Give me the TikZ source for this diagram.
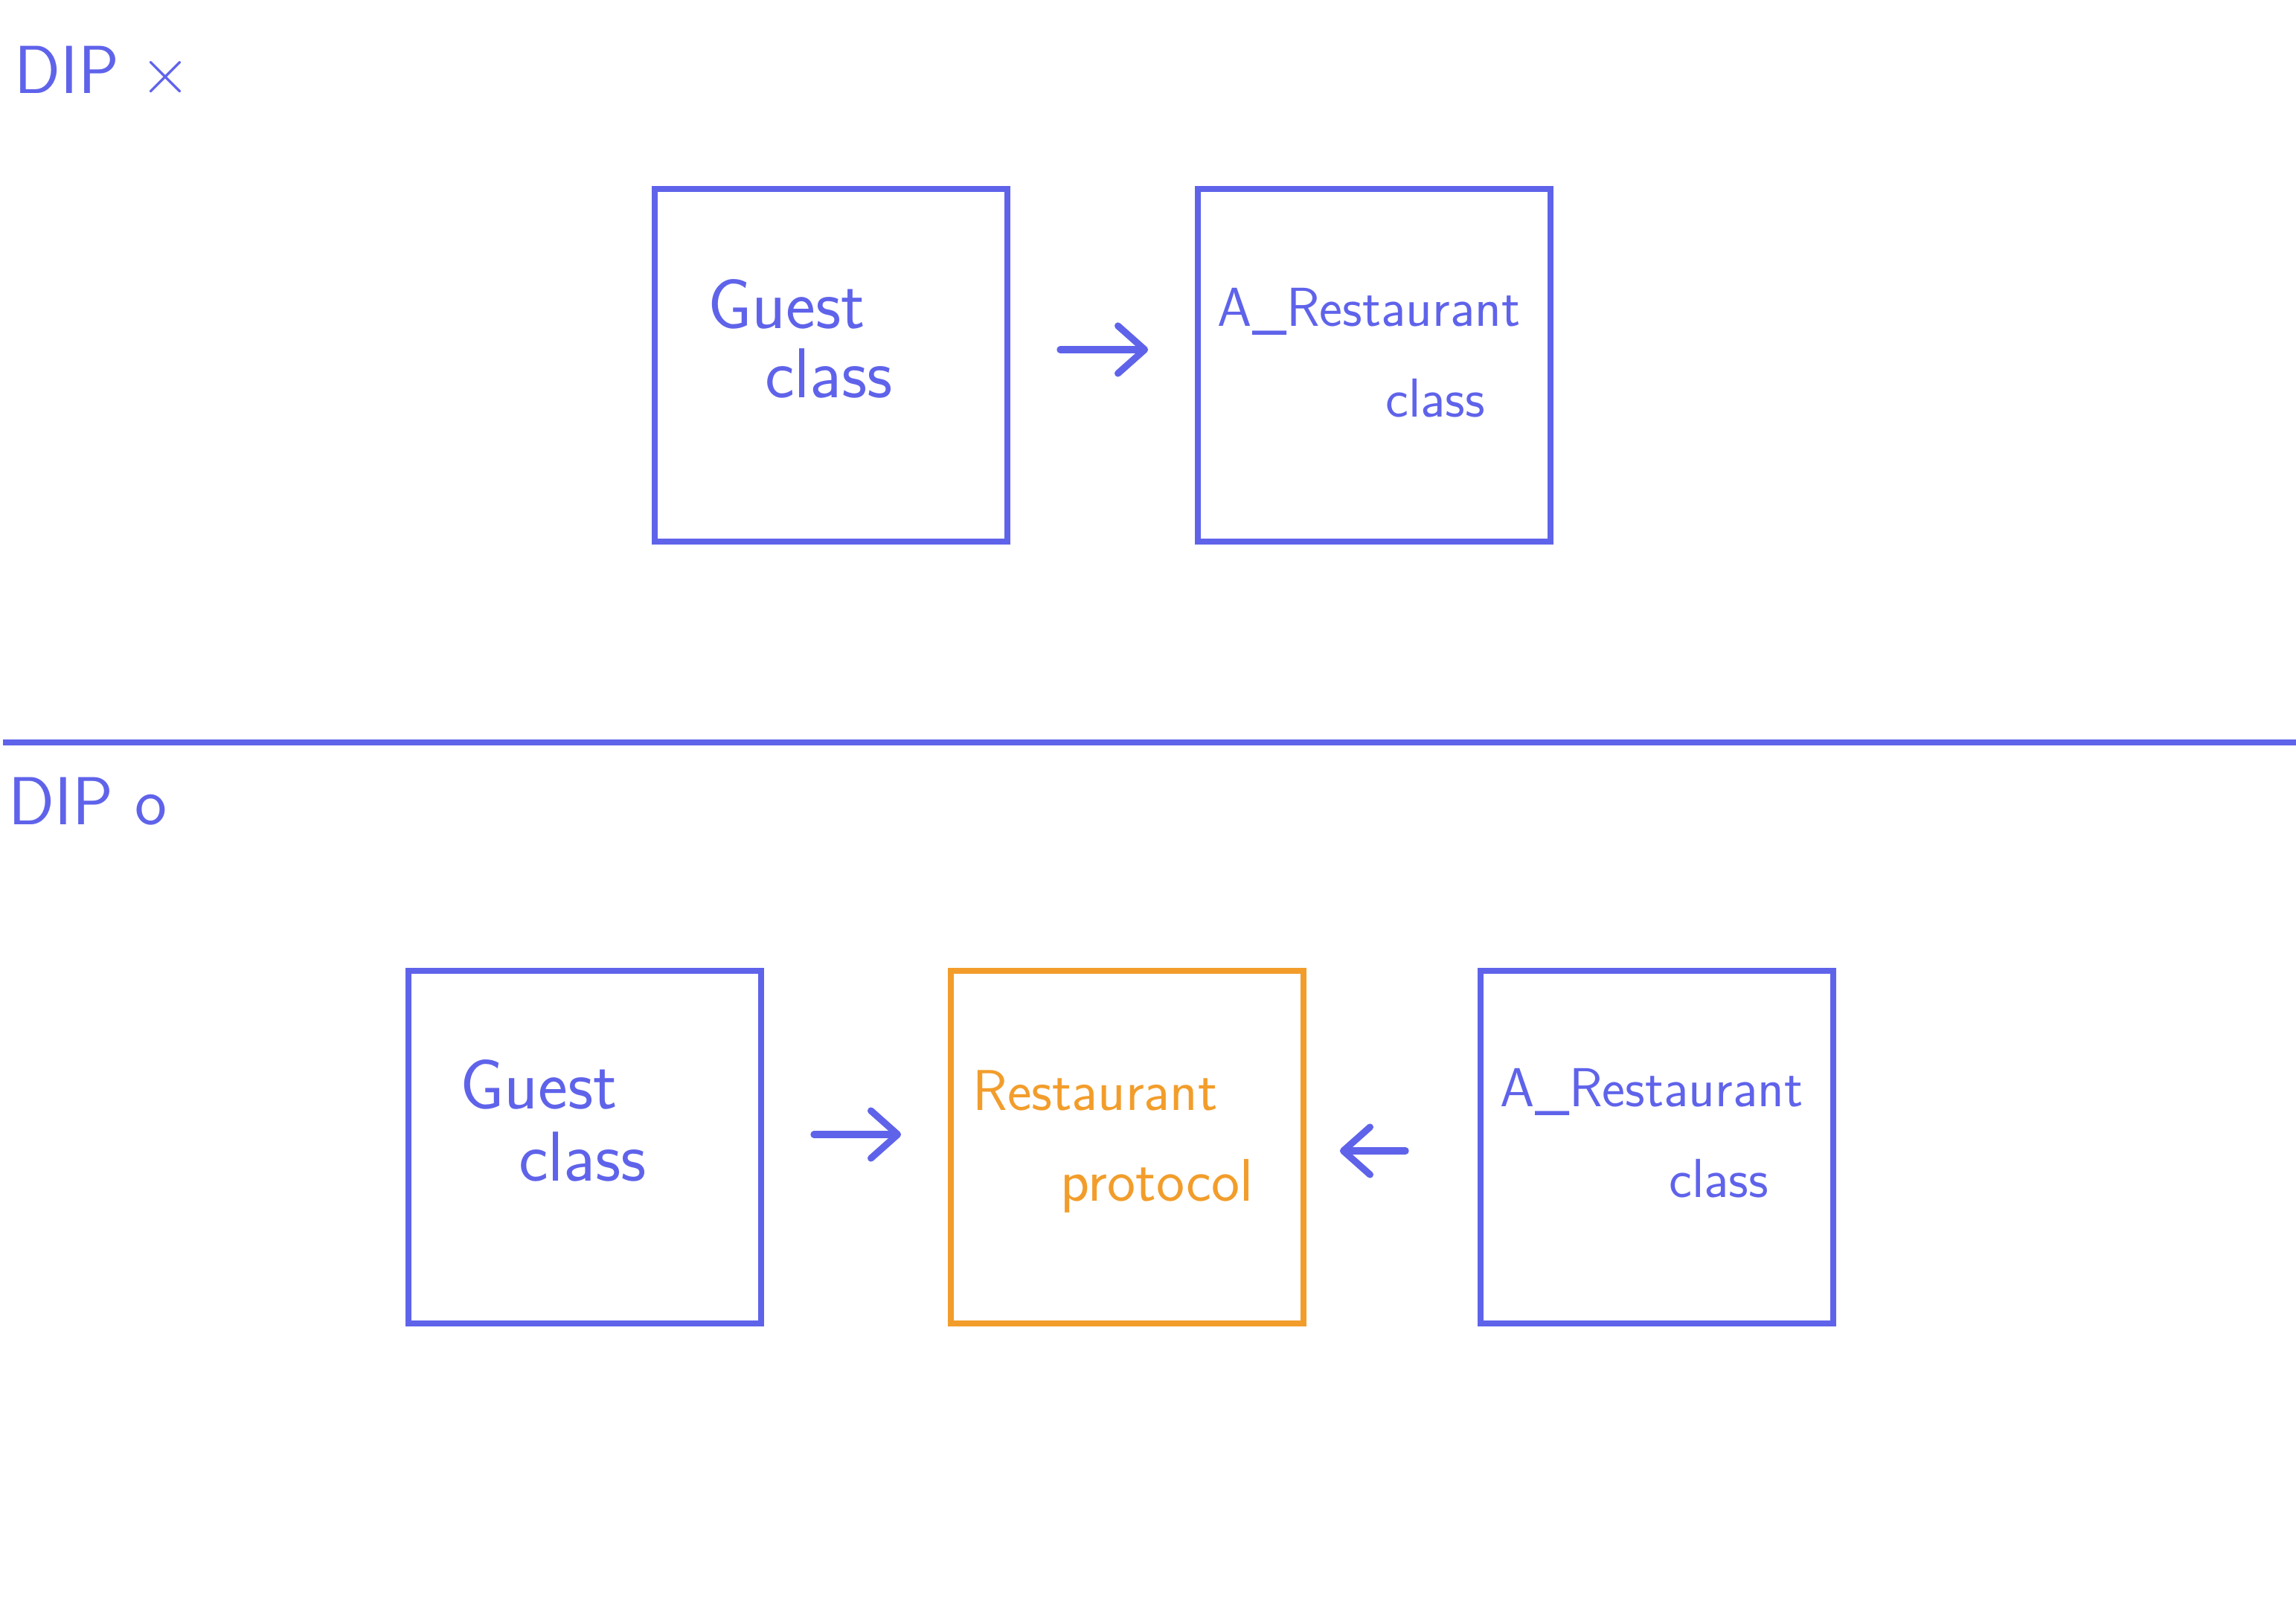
\documentclass[tikz,border=0pt]{standalone}
\usepackage{amsmath}
\usepackage{amssymb}
\usepackage{tikz}
\usetikzlibrary{arrows,arrows.meta}
\usepackage{xcolor}

\definecolor{penblue}{HTML}{5F63EA}
\definecolor{penorange}{HTML}{F29D2B}

\tikzset{
	box/.style={draw, line width=2.2pt, minimum width=4.74cm, minimum height=4.74cm, inner sep=0pt},
	arr/.style={-{Straight Barb[length=3.6mm, width=6.4mm, round]}, penblue, line width=2.6pt, line cap=round},
	hand/.style={font=\sffamily\fontsize{21}{25}\selectfont, inner sep=0pt},
	bighand/.style={font=\sffamily\fontsize{27}{31}\selectfont, inner sep=0pt}
}

\begin{document}
\begin{tikzpicture}[scale=1]
					\useasboundingbox (0,0) rectangle (30.86,21.82);
					
					% DIP x
					\node[hand, penblue, font=\sffamily\fontsize{26}{30}\selectfont] (dipx) at (1.38,20.85) {DIP $\times$};
					
					\node[box, penblue] (guestA) at (11.17,16.91) {};
					\node[box, penblue] (restA) at (18.47,16.91) {};
					
					\node[bighand, penblue] (guestAt) at (10.57,17.73) {Guest};
					\node[bighand, penblue] (guestAc) at (11.14,16.80) {class};
					\node[hand, penblue] (restAt) at (18.40,17.63) {A\_Restaurant};
					\node[hand, penblue] (restAc) at (19.29,16.47) {class};
					
					\draw[arr, shorten <=0.67cm, shorten >=0.63cm] ([yshift=2.1mm]guestA.east) -- ([yshift=2.1mm]restA.west);
					
					% divider
					\coordinate (lineL) at (0.04,11.84);
					\coordinate (lineR) at (30.86,11.84);
					\draw[penblue, line width=2.2pt] (lineL) -- (lineR);
					
					% DIP o
					\node[hand, penblue, font=\sffamily\fontsize{26}{30}\selectfont] (dipo) at (1.18,11.05) {DIP o};
					
					\node[box, penblue] (guestB) at (7.86,6.40) {};
					\node[box, penorange] (proto) at (15.15,6.40) {};
					\node[box, penblue] (restB) at (22.27,6.40) {};
					
					\node[bighand, penblue] (guestBt) at (7.24,7.24) {Guest};
					\node[bighand, penblue] (guestBc) at (7.83,6.27) {class};
					\node[hand, penorange, font=\sffamily\fontsize{22}{26}\selectfont] (protot) at (14.72,7.16) {Restaurant};
					\node[hand, penorange, font=\sffamily\fontsize{23}{27}\selectfont] (protoc) at (15.55,5.88) {protocol};
					\node[hand, penblue] (restBt) at (22.20,7.14) {A\_Restaurant};
					\node[hand, penblue] (restBc) at (23.10,5.98) {class};
					
					\draw[arr, shorten <=0.67cm, shorten >=0.63cm] ([yshift=1.7mm]guestB.east) -- ([yshift=1.7mm]proto.west);
					\draw[arr, shorten <=0.97cm, shorten >=0.45cm] ([yshift=-0.5mm]restB.west) -- ([yshift=-0.5mm]proto.east);
				\end{tikzpicture}
\end{document}
